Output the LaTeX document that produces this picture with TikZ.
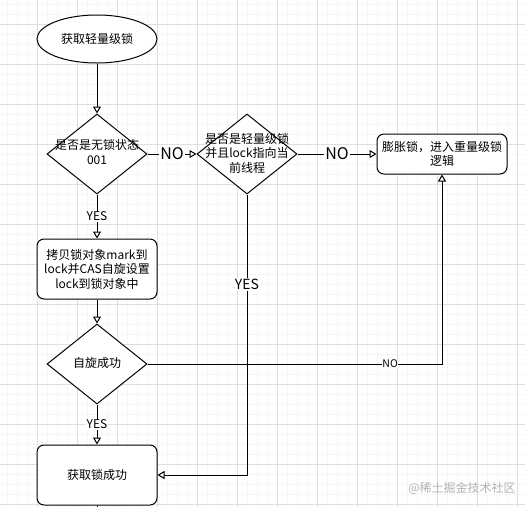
\documentclass[tikz,border=0pt]{standalone}
\usepackage{fontspec}
\setmainfont{Noto Sans CJK SC}
\usetikzlibrary{shapes.geometric,arrows.meta}
\tikzset{
  gridminor/.style={draw=gray!7, line width=0.5pt},
  gridmajor/.style={draw=gray!25, line width=0.7pt},
  flow/.style={draw=black, line width=1pt},
  conn/.style={flow, -{Triangle[fill=white, length=7pt, width=8pt, line width=1pt]}},
  diabox/.style={diamond, draw, fill=white, line width=1pt, minimum width=100pt, minimum height=80pt, inner sep=0pt},
  rbox/.style={rectangle, draw, fill=white, rounded corners=7pt, line width=1pt, align=center, inner sep=0pt, font=\fontsize{12}{14.5}\selectfont},
  txt/.style={align=center, inner sep=0pt, font=\fontsize{12}{14.5}\selectfont},
  lblbig/.style={fill=white, inner sep=1pt, font=\fontsize{16}{18}\selectfont},
  lblmid/.style={fill=white, inner sep=1pt, font=\fontsize{14}{16}\selectfont},
  lblsmall/.style={fill=white, inner sep=1pt, font=\fontsize{12}{14}\selectfont},
  lbltiny/.style={fill=white, inner sep=0.5pt, font=\fontsize{10.5}{12}\selectfont},
  wmark/.style={text=gray!60, inner sep=0pt, font=\fontsize{12}{14}\selectfont}
}
\begin{document}
\begin{tikzpicture}[x=1pt,y=-1pt]
\useasboundingbox (0,0) rectangle (525,507);
\fill[white] (0,0) rectangle (525,507);
\foreach \x in {7,17,...,517} \draw[gridminor] (\x,0) -- (\x,507);
\foreach \y in {4,14,...,504} \draw[gridminor] (0,\y) -- (525,\y);
\foreach \x in {37,77,...,517} \draw[gridmajor] (\x,0) -- (\x,507);
\foreach \y in {24,64,...,504} \draw[gridmajor] (0,\y) -- (525,\y);

% nodes
\node[ellipse, draw, fill=white, line width=1pt, minimum width=120pt, minimum height=48pt, inner sep=0pt, font=\fontsize{12}{14.5}\selectfont] (start) at (97,39) {获取轻量级锁};
\node[diabox] (d1) at (97,154) {};
\node[txt] (d1t) at (97,152) {是否是无锁状态\\001};
\node[diabox] (d2) at (247,154) {};
\node[txt] (d2t) at (247,153) {是否是轻量级锁\\并且lock指向当\\前线程};
\node[rbox, minimum width=130pt, minimum height=40pt] (b3) at (442,154) {膨胀锁，进入重量级锁\\逻辑};
\node[rbox, minimum width=120pt, minimum height=60pt] (b4) at (97,269) {拷贝锁对象mark到\\lock并CAS自旋设置\\lock到锁对象中};
\node[diabox] (d3) at (97,364) {};
\node[txt] (d3t) at (97,363) {自旋成功};
\node[rbox, minimum width=120pt, minimum height=60pt] (b5) at (97,475) {获取锁成功};
\coordinate (cut) at (97,507);

% connectors
\draw[conn] (start) -- (d1);
\draw[conn] (d1.east) -- node[lblbig] (no1) {NO} (d2.west);
\draw[conn] (d2.east) -- node[lblbig] (no2) {NO} (b3.west);
\draw[conn] (d1.south) -- node[lblsmall] (yes1) {YES} (b4.north);
\draw[conn] (b4.south) -- (d3.north);
\draw[conn] (d3.south) -- node[lblsmall] (yes2) {YES} (b5.north);
\draw[conn] (d3.east) -- node[lbltiny, pos=0.824] (no3) {NO} (d3.east -| b3.south) -- (b3.south);
\draw[conn] (d2.south) -- node[lblmid, pos=0.32] (yes3) {YES} (d2.south |- b5.east) -- (b5.east);
\draw[flow] (b5.south) -- (cut);

\node[wmark] (wm) at (462,488) {@稀土掘金技术社区};
\end{tikzpicture}
\end{document}
